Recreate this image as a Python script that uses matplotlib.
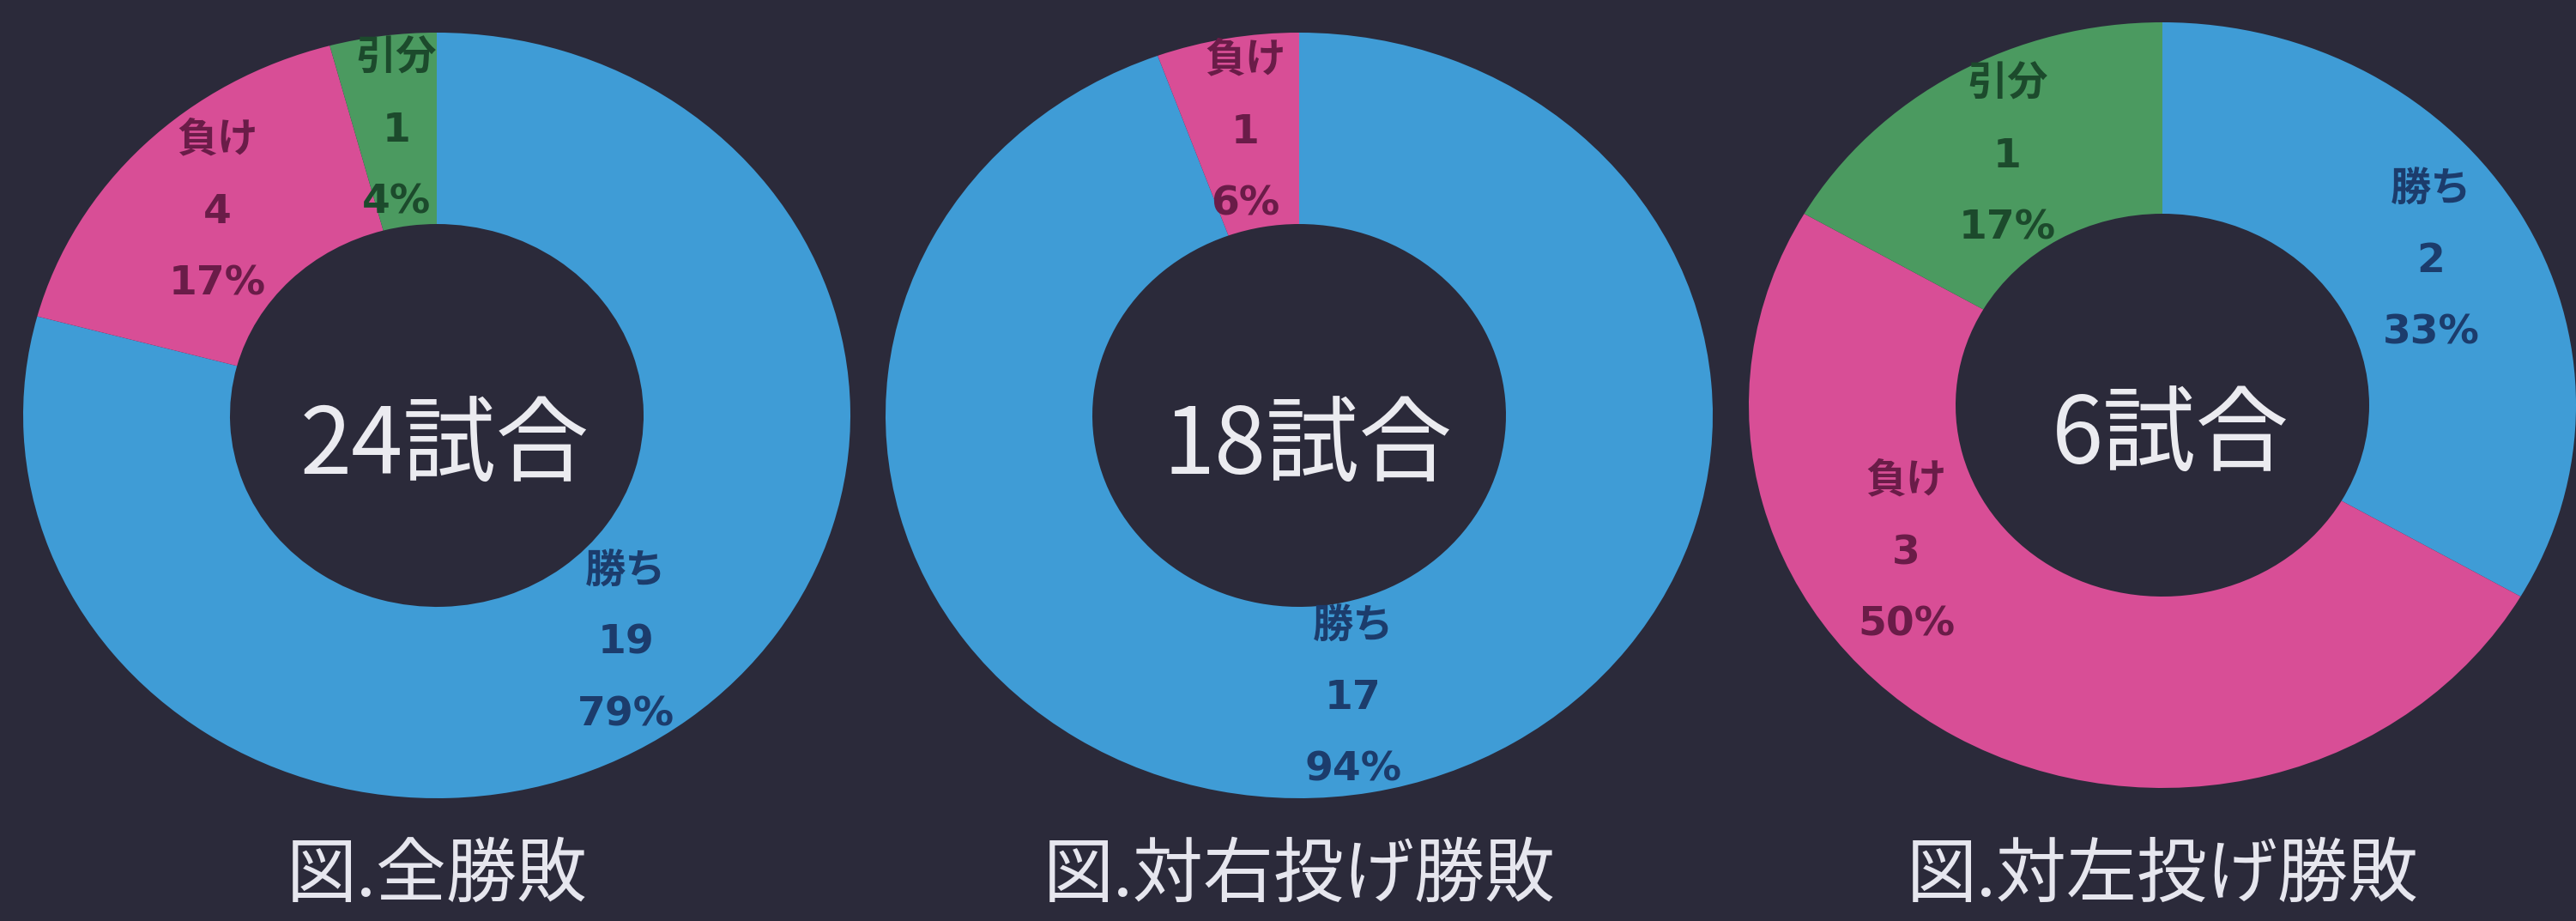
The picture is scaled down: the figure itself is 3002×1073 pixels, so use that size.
import matplotlib.pyplot as plt
import numpy as np

# 勝敗データ（全体 / 対右投げ / 対左投げ）
categories = ['勝ち', '負け', '引分']
all_games = [19, 4, 1]
vs_right = [17, 1, 0]
vs_left = [2, 3, 1]
center_labels = ['24試合', '18試合', '6試合']
captions = ['図.全勝敗', '図.対右投げ勝敗', '図.対左投げ勝敗']

bg = '#2b2a3a'
colors = ['#3f9cd6', '#d84e96', '#4b9a60']
text_colors = ['#1c3c6c', '#6a1c48', '#1c4a2c']

W, H = 3002, 1073
centers = [(509, 484), (1514, 484), (2520, 472)]  # pixel centres of the donuts
rx, ry = 482, 446
# 対左投げの「負け」ラベルは元の図で左寄りに置かれている
label_override = {(2, 1): (-148, 0.73)}

fig = plt.figure(figsize=(W / 100, H / 100), dpi=100, facecolor=bg)

label_font = ['DejaVu Sans', 'Noto Sans CJK JP']
cjk_font = ['Noto Sans CJK JP', 'DejaVu Sans']

for i, vals in enumerate([all_games, vs_right, vs_left]):
    cx, cy = centers[i]
    ax = fig.add_axes([(cx - rx) / W, 1 - (cy + ry) / H, 2 * rx / W, 2 * ry / H])
    ax.set_facecolor(bg)
    wedges, _ = ax.pie(vals, colors=colors, startangle=90, counterclock=False,
                       wedgeprops=dict(width=0.5, linewidth=0))
    ax.set_aspect('auto')
    ax.set_xlim(-1, 1)
    ax.set_ylim(-1, 1)

    total = sum(vals)
    for j, w in enumerate(wedges):
        if vals[j] == 0:
            continue
        ang, r = (w.theta1 + w.theta2) / 2, 0.75
        if (i, j) in label_override:
            ang, r = label_override[(i, j)]
        x = r * np.cos(np.radians(ang))
        y = r * np.sin(np.radians(ang))
        s = '%s\n%d\n%d%%' % (categories[j], vals[j], round(vals[j] / total * 100))
        ax.text(x, y, s, ha='center', va='center', multialignment='center',
                fontsize=34, fontweight='bold', color=text_colors[j],
                family=label_font, linespacing=2.1)

    ax.text(0.02, -0.085, center_labels[i], ha='center', va='center',
            fontsize=78, color='#ebebf0', family=cjk_font)

    fig.text(cx / W, 1 - 1020 / H, captions[i], ha='center', va='center',
             fontsize=59, color='#e6e6ee', family=cjk_font)

plt.savefig('out.png', dpi=100, facecolor=bg)
